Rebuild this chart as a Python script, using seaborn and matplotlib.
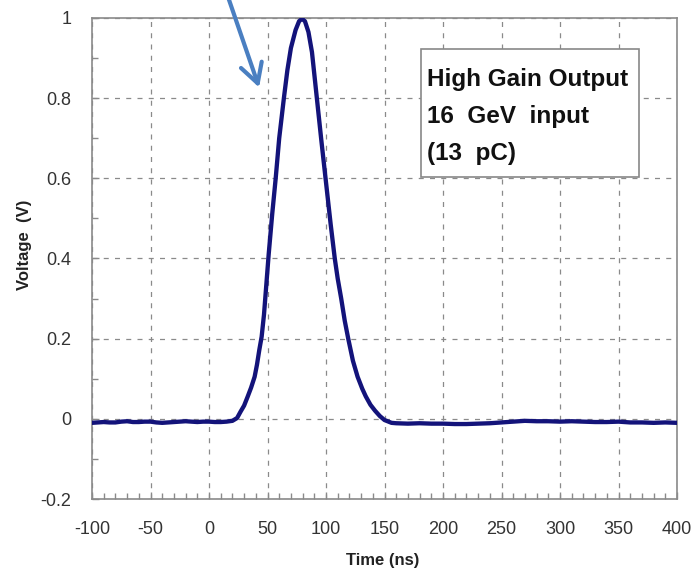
import matplotlib
matplotlib.use("Agg")
import matplotlib.pyplot as plt
import seaborn as sns
import pandas as pd
from matplotlib.ticker import MultipleLocator
from matplotlib.transforms import IdentityTransform
from matplotlib.lines import Line2D
from matplotlib.patches import Rectangle

# ---- data ----
time_ns = [-100, -95, -90, -85, -80, -75, -70, -65, -60, -55, -50, -45, -40, -35, -30, -25,
           -20, -15, -10, -5, 0, 5, 10, 15, 20, 24, 27, 30, 33, 36, 39, 41, 43, 45, 47, 49,
           51, 54, 57, 60, 64, 67, 70, 74, 77, 79.5, 82, 85, 88, 92, 96, 100, 104, 107.5,
           110, 113, 116, 119, 123, 127, 131, 134, 138, 142, 146, 150, 156, 160, 170, 180,
           190, 200, 210, 220, 230, 240, 250, 260, 270, 280, 290, 300, 310, 320, 330, 340,
           350, 360, 370, 380, 390, 400]
voltage_v = [-0.010, -0.009, -0.008, -0.009, -0.009, -0.007, -0.006, -0.008, -0.008, -0.007,
             -0.007, -0.009, -0.010, -0.009, -0.008, -0.007, -0.006, -0.007, -0.008, -0.007,
             -0.007, -0.008, -0.008, -0.007, -0.005, 0.002, 0.018, 0.033, 0.055, 0.078,
             0.105, 0.135, 0.172, 0.205, 0.260, 0.335, 0.410, 0.510, 0.600, 0.700, 0.800,
             0.870, 0.925, 0.970, 0.992, 0.998, 0.992, 0.965, 0.915, 0.805, 0.695, 0.590,
             0.485, 0.400, 0.350, 0.300, 0.245, 0.200, 0.145, 0.105, 0.075, 0.056, 0.035,
             0.020, 0.007, -0.003, -0.010, -0.011, -0.012, -0.011, -0.012, -0.012, -0.013,
             -0.013, -0.012, -0.011, -0.009, -0.007, -0.005, -0.006, -0.006, -0.007, -0.006,
             -0.007, -0.008, -0.008, -0.007, -0.009, -0.009, -0.010, -0.009, -0.010]

x_ticks = [-100, -50, 0, 50, 100, 150, 200, 250, 300, 350, 400]
y_ticks = [-0.2, 0, 0.2, 0.4, 0.6, 0.8, 1]
y_tick_labels = ["-0.2", "0", "0.2", "0.4", "0.6", "0.8", "1"]
box_lines = ["High Gain Output", "16  GeV  input", "(13  pC)"]
x_label = "Time (ns)"
y_label = "Voltage  (V)"

df = pd.DataFrame({"time": time_ns, "voltage": voltage_v})

sns.set_theme(style="white")
plt.rcParams["font.family"] = ["Liberation Sans", "DejaVu Sans"]

W, H = 696, 575
fig = plt.figure(figsize=(W / 100, H / 100), dpi=100)
ax = fig.add_axes([92 / W, (H - 499) / H, 585 / W, 481 / H])

sns.lineplot(data=df, x="time", y="voltage", ax=ax, color="#13137a",
             linewidth=3.1, sort=False, estimator=None, zorder=3)

ax.set_xlim(-100, 400)
ax.set_ylim(-0.2, 1.0)
ax.set_xticks(x_ticks)
ax.set_xticklabels([str(t) for t in x_ticks])
ax.set_yticks(y_ticks)
ax.set_yticklabels(y_tick_labels)
ax.xaxis.set_minor_locator(MultipleLocator(10))
ax.yaxis.set_minor_locator(MultipleLocator(0.1))

ax.grid(True, which="major", linestyle=(0, (4, 5)), color="#8a8a8a", linewidth=0.9)
for s in ax.spines.values():
    s.set_color("#8a8a8a")
    s.set_linewidth(1.2)

ax.tick_params(axis="both", which="both", direction="in", colors="#8a8a8a",
               labelcolor="#333333", labelsize=13, top=False, right=False,
               bottom=True, left=True)
ax.tick_params(axis="both", which="major", length=5, width=1)
ax.tick_params(axis="both", which="minor", length=4.5, width=1)
ax.tick_params(axis="x", which="major", pad=16)
ax.tick_params(axis="y", which="major", pad=15)

ax.set_xlabel(x_label, fontsize=12, fontweight="bold", color="#222222")
ax.set_ylabel(y_label, fontsize=12, fontweight="bold", color="#222222")
ax.xaxis.set_label_coords(0.497, (499 - 553) / 481)
ax.yaxis.set_label_coords((32 - 92) / 585, (499 - 245) / 481)

# text box (figure pixels)
ident = IdentityTransform()
fig.add_artist(Rectangle((421, H - 177), 218, 128, transform=ident, facecolor="white",
                         edgecolor="#888888", linewidth=1.2, zorder=5))
for line, base in zip(box_lines, [86, 123, 160]):
    fig.text(427, H - base, line, transform=ident, fontsize=17.5, fontweight="bold",
             color="#111111", ha="left", va="baseline", zorder=6)

# blue annotation arrow (figure pixels)
arrow_kw = dict(transform=ident, color="#4a7fc1", linewidth=3.0,
                solid_capstyle="round", zorder=10)
tip = (257.7, H - 83.3)
fig.add_artist(Line2D([227, tip[0]], [H + 6, tip[1]], **arrow_kw))
fig.add_artist(Line2D([241, tip[0]], [H - 68, tip[1]], **arrow_kw))
fig.add_artist(Line2D([261.7, tip[0]], [H - 61.7, tip[1]], **arrow_kw))

fig.savefig("out.png", dpi=100)
